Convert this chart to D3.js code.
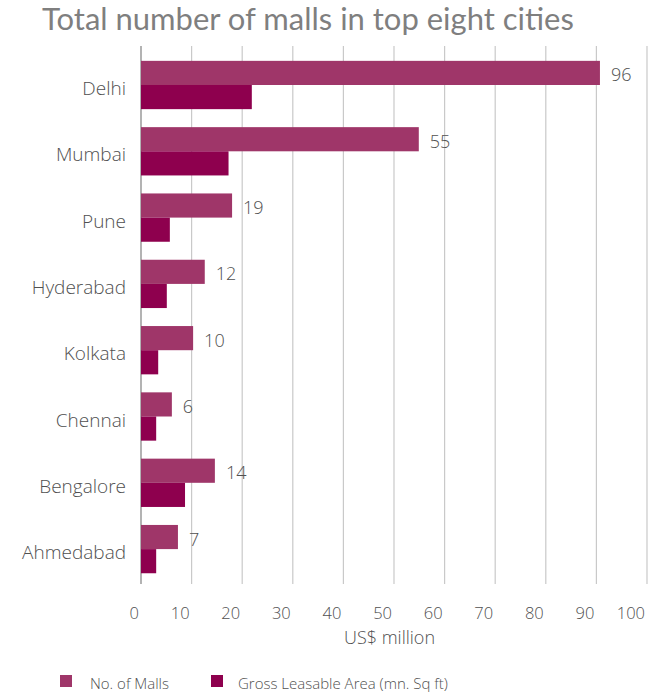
<!DOCTYPE html>
<html>
<head>
<meta charset="utf-8">
<script src="https://cdn.jsdelivr.net/npm/d3@7/dist/d3.min.js"></script>
<style>
  html, body { margin: 0; padding: 0; background: #fff; }
  svg { display: block; }
  text { font-family: "Open Sans", "Noto Sans", sans-serif; font-weight: 300; }
</style>
</head>
<body>
<svg id="chart" width="664" height="694"></svg>
<script>
// ---- Data ----
const cities = ["Delhi", "Mumbai", "Pune", "Hyderabad", "Kolkata", "Chennai", "Bengalore", "Ahmedabad"];
// bar lengths as drawn in the reference
const mallBars = [90.7, 54.9, 18.0, 12.6, 10.3, 6.1, 14.6, 7.3];
// data labels shown next to the mall bars
const mallLabels = [96, 55, 19, 12, 10, 6, 14, 7];
const glaValues = [21.9, 17.3, 5.7, 5.1, 3.4, 3.0, 8.7, 3.0];
const xTicks = [0, 10, 20, 30, 40, 50, 60, 70, 80, 90, 100];
const seriesNames = ["No. of Malls", "Gross Leasable Area (mn. Sq ft)"];
const colors = ["#9f3669", "#8e004e"];

const svg = d3.select("#chart");
const textColor = "#505050";

const x = d3.scaleLinear().domain([0, 100]).range([141, 647]);
const y = d3.scaleBand().domain(cities).range([51.85, 582.25])
  .paddingInner(0.2715).paddingOuter(0.1357);
const sub = d3.scaleBand().domain([0, 1]).range([0, y.bandwidth()]);

// Title
const title = svg.append("text")
  .attr("x", 42).attr("y", 30)
  .attr("fill", "#7f7f7f")
  .style("font-family", "Lato, 'Open Sans', sans-serif")
  .style("font-weight", "400")
  .style("font-size", "30px")
  .text("Total number of malls in top eight cities");
const tw = title.node().getComputedTextLength();
title.style("font-size", (30 * 532 / tw).toFixed(2) + "px");

// Gridlines
svg.append("g").selectAll("line").data(xTicks.filter(d => d > 0)).join("line")
  .attr("x1", d => x(d)).attr("x2", d => x(d))
  .attr("y1", 46).attr("y2", 584)
  .attr("stroke", "#c9c9c9").attr("stroke-width", 1.2);

// Zero axis line
svg.append("line")
  .attr("x1", x(0)).attr("x2", x(0)).attr("y1", 46).attr("y2", 584)
  .attr("stroke", "#b3b3b3").attr("stroke-width", 2);

// Tick labels
svg.append("g").selectAll("text").data(xTicks).join("text")
  .attr("x", d => x(d) - 2).attr("y", 619)
  .attr("text-anchor", "end")
  .attr("fill", textColor)
  .style("font-size", "16.5px")
  .text(d => d);

// Axis title
svg.append("text")
  .attr("x", 389.5).attr("y", 644)
  .attr("text-anchor", "middle")
  .attr("fill", textColor)
  .style("font-size", "18px")
  .text("US$ million");

// Category labels
svg.append("g").selectAll("text").data(cities).join("text")
  .attr("x", 126).attr("y", d => y(d) + y.bandwidth() / 2 + 10)
  .attr("text-anchor", "end")
  .attr("fill", textColor)
  .style("font-size", "19px")
  .text(d => d);

// Bars
const rows = cities.map((c, i) => ({ city: c, malls: mallBars[i], label: mallLabels[i], gla: glaValues[i] }));

svg.append("g").selectAll("rect").data(rows).join("rect")
  .attr("x", x(0)).attr("y", d => y(d.city) + sub(0))
  .attr("width", d => x(d.malls) - x(0)).attr("height", sub.bandwidth())
  .attr("fill", colors[0]);

svg.append("g").selectAll("rect").data(rows).join("rect")
  .attr("x", x(0)).attr("y", d => y(d.city) + sub(1))
  .attr("width", d => x(d.gla) - x(0)).attr("height", sub.bandwidth())
  .attr("fill", colors[1]);

// Data labels
svg.append("g").selectAll("text").data(rows).join("text")
  .attr("x", d => x(d.malls) + 11)
  .attr("y", d => y(d.city) + sub(0) + sub.bandwidth() / 2 + 8.5)
  .attr("fill", textColor)
  .style("font-size", "18px")
  .text(d => d.label);

// Legend
const legX = [60, 211];
const legTX = [90, 238];
const leg = svg.append("g").selectAll("g").data(seriesNames).join("g");
leg.append("rect")
  .attr("x", (d, i) => legX[i]).attr("y", 675)
  .attr("width", 12).attr("height", 12)
  .attr("fill", (d, i) => colors[i]);
leg.append("text")
  .attr("x", (d, i) => legTX[i]).attr("y", 689)
  .attr("fill", textColor)
  .style("font-size", "15px")
  .text(d => d);
</script>
</body>
</html>
